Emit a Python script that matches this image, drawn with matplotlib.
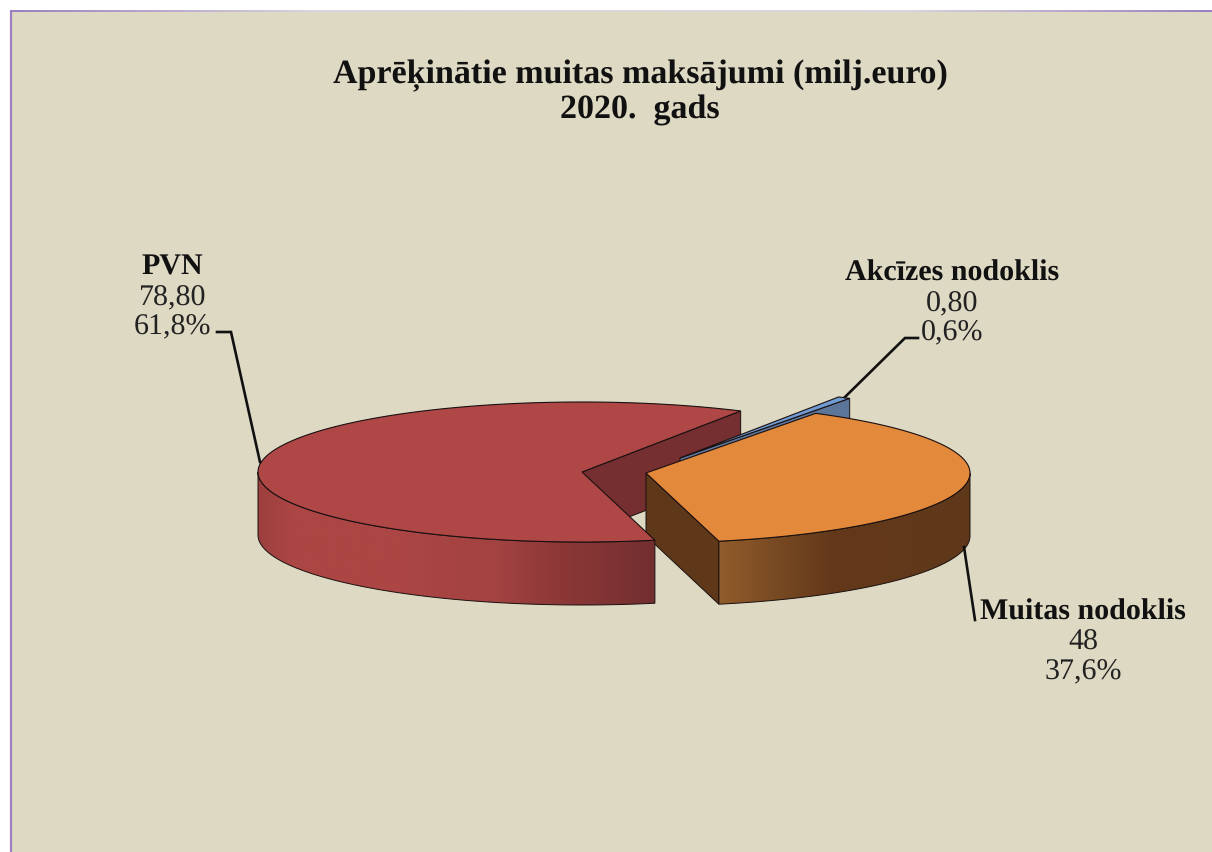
import numpy as np
import matplotlib
matplotlib.use("Agg")
import matplotlib.pyplot as plt
from matplotlib.colors import LinearSegmentedColormap
from matplotlib.patches import Polygon, Rectangle

plt.rcParams["text.hinting"] = "none"
plt.rcParams["text.hinting_factor"] = 1

# data
categories = ["PVN", "Muitas nodoklis", "Akcīzes nodoklis"]
values = [78.80, 48, 0.80]
value_labels = ["78,80", "48", "0,80"]
percent_labels = ["61,8%", "37,6%", "0,6%"]
title_lines = ["Aprēķinātie muitas maksājumi (milj.euro)", "2020.  gads"]

# pie geometry in pixels
RX, RY, DEPTH = 324, 70, 63
START = -77  # angle where Muitas nodoklis starts
centers = {"Muitas nodoklis": (646, 473), "Akcīzes nodoklis": (680, 458), "PVN": (582, 472)}

BG = "#ddd9c3"
fig = plt.figure(figsize=(12.12, 8.52), dpi=100, facecolor="white")
ax = fig.add_axes([0, 0, 1, 1])
ax.set_axis_off()

# background panel with purple border
ax.add_patch(Rectangle((11, 11), 1201, 841, fc=BG, ec="none", zorder=0))
ax.plot([11, 11], [10, 852], color="#9c80c0", lw=1.6, zorder=1, solid_capstyle="butt")
border = LinearSegmentedColormap.from_list("border", ["#9c80c0", "#d8d3dc", "#dcd9dc", "#d8d3dc", "#9c80c0"])
ax.imshow(np.linspace(0, 1, 256).reshape(1, -1), cmap=border, extent=(11, 1212, 12, 10), aspect="auto", zorder=1)


def pt(c, t, dz=0):
    t = np.radians(t)
    return c[0] + RX * np.cos(t), c[1] - RY * np.sin(t) + dz


def arc(c, t0, t1, dz=0):
    ts = np.linspace(t0, t1, int(abs(t1 - t0) * 2) + 2)
    return np.column_stack(pt(c, ts, dz))


def outer_wall(c, t0, t1, stops, z):
    # horizontal shading image, clipped to the wall outline
    xs, cols = zip(*stops)
    cmap = LinearSegmentedColormap.from_list("w", cols)
    outline = np.vstack([arc(c, t0, t1), arc(c, t1, t0, DEPTH)])
    x0, x1 = outline[:, 0].min(), outline[:, 0].max()
    y0, y1 = outline[:, 1].min(), outline[:, 1].max()
    grid = np.interp(np.linspace(x0, x1, 500), xs, np.linspace(0, 1, len(xs))).reshape(1, -1)
    im = ax.imshow(grid, cmap=cmap, vmin=0, vmax=1, extent=(x0, x1, y1, y0), aspect="auto", zorder=z)
    edge = Polygon(outline, fc="none", ec="#1a1010", lw=0.7, zorder=z + 0.1)
    ax.add_patch(edge)
    im.set_clip_path(edge)


def radial_wall(c, t, col, z):
    p = pt(c, t)
    q = pt(c, t, DEPTH)
    ax.add_patch(Polygon([c, p, q, (c[0], c[1] + DEPTH)], fc=col, ec="#1a1010", lw=0.7, zorder=z))


def top_face(c, t0, t1, col, z):
    ax.add_patch(Polygon(np.vstack([[c], arc(c, t0, t1)]), fc=col, ec="#1a1010", lw=0.8, zorder=z))


# angles follow from the values
total = sum(values)
spans = [v / total * 360 for v in values]
m0, m1 = START, START + spans[1]
a0, a1 = m1, m1 + spans[2]
p0, p1 = a1, a1 + spans[0]

c_pvn = centers["PVN"]
c_mui = centers["Muitas nodoklis"]
c_akc = centers["Akcīzes nodoklis"]

# back to front: red cut wall, blue sliver, orange, red body
radial_wall(c_pvn, p0, "#752f30", 2)

radial_wall(c_akc, a0, "#5c7699", 3)
top_face(c_akc, a0, a1, "#6f9bd2", 3.2)

radial_wall(c_mui, m0, "#5f381a", 4)
outer_wall(c_mui, m0, 0, [(718, "#925c2b"), (770, "#7a4c24"), (830, "#64391a"), (970, "#5f381a")], 4.2)
top_face(c_mui, m0, m1, "#e3893c", 4.5)

outer_wall(c_pvn, 180, p1, [(258, "#9c3f3e"), (290, "#ab4644"), (400, "#ab4644"), (500, "#a24241"),
                            (560, "#8c3837"), (620, "#7c3332"), (655, "#732e30")], 5)
top_face(c_pvn, p0, p1, "#ae4745", 5.5)

# leader lines
ax.plot([260, 231, 217], [462, 332, 332], color="#111111", lw=1.9, zorder=6, solid_joinstyle="miter")
ax.plot([845, 905, 918], [397, 338, 338], color="#111111", lw=1.9, zorder=6, solid_joinstyle="miter")
ax.plot([964, 975], [547, 620], color="#111111", lw=1.9, zorder=6)

# text
FONT = "Liberation Serif"
for txt, y in zip(title_lines, [83, 118]):
    ax.text(640, y, txt, family=FONT, weight="bold", size=24.5, ha="center", va="baseline", color="#111111")

label_pos = {"PVN": (172, 275, 305, 334), "Akcīzes nodoklis": (952, 281, 311, 340),
             "Muitas nodoklis": (1083, 620, 650, 679)}
for name, val, pct in zip(categories, value_labels, percent_labels):
    x, y0, y1, y2 = label_pos[name]
    ax.text(x, y0, name, family=FONT, weight="bold", size=21.4, ha="center", va="baseline", color="#111111")
    ax.text(x, y1, val, family=FONT, size=21.4, ha="center", va="baseline", color="#222222")
    ax.text(x, y2, pct, family=FONT, size=21.4, ha="center", va="baseline", color="#222222")

ax.set_xlim(0, 1212)
ax.set_ylim(852, 0)
fig.savefig("out.png", dpi=100, facecolor="white")
